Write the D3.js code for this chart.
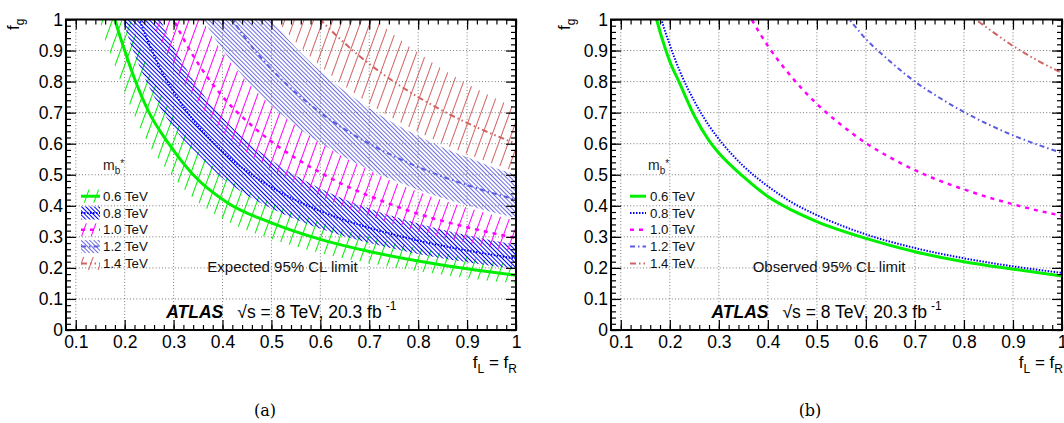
<!DOCTYPE html>
<html><head><meta charset="utf-8">
<script src="https://cdn.jsdelivr.net/npm/d3@7"></script>
<style>
html,body{margin:0;padding:0;background:#fff;}
svg{display:block;font-family:"Liberation Sans",Arial,Helvetica,sans-serif;}
</style></head>
<body>
<script>
// ---------------- data ----------------
const massLabels = ["0.6 TeV","0.8 TeV","1.0 TeV","1.2 TeV","1.4 TeV"];
const xTicks = [0.1,0.2,0.3,0.4,0.5,0.6,0.7,0.8,0.9,1];
const yTicks = [0,0.1,0.2,0.3,0.4,0.5,0.6,0.7,0.8,0.9,1];

// expected limits: [fL=fR, fg]
const exp06 = [[0.17,1.06],[0.18,1.0],[0.2,0.9],[0.22,0.81],[0.25,0.70],[0.29,0.60],[0.34,0.50],[0.41,0.41],[0.5,0.345],[0.6,0.292],[0.7,0.253],[0.8,0.222],[0.9,0.197],[1.0,0.176]];
const exp08 = [[0.21,1.095],[0.23,1.0],[0.25,0.92],[0.28,0.82],[0.3,0.767],[0.35,0.657],[0.4,0.575],[0.45,0.511],[0.5,0.46],[0.6,0.383],[0.7,0.329],[0.8,0.288],[0.9,0.256],[1.0,0.23]];
const exp10 = [[0.28,1.07],[0.3,1.0],[0.33,0.91],[0.36,0.835],[0.4,0.752],[0.45,0.672],[0.5,0.607],[0.55,0.553],[0.6,0.507],[0.65,0.466],[0.7,0.432],[0.8,0.374],[0.9,0.331],[1.0,0.296]];
const exp12 = [[0.4,1.05],[0.42,1.0],[0.45,0.933],[0.5,0.84],[0.55,0.764],[0.6,0.70],[0.65,0.646],[0.7,0.60],[0.75,0.56],[0.8,0.525],[0.85,0.494],[0.9,0.467],[0.95,0.442],[1.0,0.42]];
const exp14 = [[0.55,1.09],[0.6,1.0],[0.65,0.923],[0.7,0.857],[0.75,0.80],[0.8,0.75],[0.85,0.706],[0.9,0.667],[0.95,0.632],[1.0,0.60]];

// expected +-1 sigma bands: [fL=fR, low, high]
const band06 = [[0.14,1.06,1.49],[0.15,0.99,1.39],[0.16,0.935,1.31],[0.18,0.85,1.19],[0.2,0.765,1.07],[0.22,0.69,0.965],[0.25,0.595,0.833],[0.29,0.51,0.714],[0.34,0.425,0.595],[0.41,0.35,0.49],[0.5,0.293,0.41],[0.6,0.248,0.348],[0.7,0.215,0.30],[0.8,0.189,0.264],[0.9,0.167,0.234],[1.0,0.15,0.209]];
const band08 = [[0.19,1.03,1.44],[0.2,0.978,1.37],[0.21,0.93,1.30],[0.23,0.85,1.19],[0.25,0.782,1.095],[0.28,0.697,0.976],[0.3,0.652,0.913],[0.35,0.558,0.782],[0.4,0.489,0.684],[0.45,0.434,0.608],[0.5,0.391,0.547],[0.6,0.326,0.456],[0.7,0.28,0.391],[0.8,0.245,0.343],[0.9,0.218,0.305],[1.0,0.196,0.274]];
const band10 = [[0.24,1.06,1.49],[0.26,0.98,1.37],[0.28,0.91,1.27],[0.3,0.85,1.19],[0.33,0.774,1.08],[0.36,0.71,0.994],[0.4,0.639,0.895],[0.45,0.571,0.80],[0.5,0.516,0.722],[0.55,0.47,0.658],[0.6,0.431,0.603],[0.65,0.396,0.555],[0.7,0.367,0.514],[0.8,0.318,0.445],[0.9,0.281,0.394],[1.0,0.252,0.352]];
const band12 = [[0.33,1.095,1.51],[0.36,1.003,1.39],[0.4,0.903,1.25],[0.45,0.802,1.11],[0.5,0.722,1.0],[0.55,0.657,0.909],[0.6,0.602,0.833],[0.65,0.556,0.769],[0.7,0.516,0.714],[0.75,0.482,0.666],[0.8,0.452,0.625],[0.85,0.425,0.588],[0.9,0.402,0.556],[0.95,0.38,0.526],[1.0,0.361,0.50]];
const band14 = [[0.48,1.063,1.49],[0.5,1.02,1.43],[0.55,0.927,1.30],[0.6,0.85,1.19],[0.65,0.785,1.10],[0.7,0.729,1.02],[0.75,0.68,0.952],[0.8,0.638,0.893],[0.85,0.60,0.84],[0.9,0.567,0.793],[0.95,0.537,0.752],[1.0,0.51,0.714]];

// observed limits
const obs06 = [[0.165,1.05],[0.173,1.0],[0.19,0.91],[0.2,0.865],[0.22,0.795],[0.25,0.69],[0.28,0.61],[0.3,0.57],[0.35,0.494],[0.4,0.43],[0.45,0.385],[0.5,0.349],[0.6,0.295],[0.7,0.252],[0.8,0.22],[0.9,0.196],[1.0,0.174]];
const obs08 = [[0.175,1.05],[0.183,1.0],[0.2,0.918],[0.22,0.835],[0.25,0.737],[0.28,0.658],[0.3,0.615],[0.35,0.528],[0.4,0.463],[0.45,0.41],[0.5,0.37],[0.6,0.308],[0.7,0.264],[0.8,0.231],[0.9,0.205],[1.0,0.184]];
const obs10 = [[0.35,1.05],[0.367,1.0],[0.4,0.915],[0.45,0.812],[0.5,0.728],[0.55,0.66],[0.6,0.602],[0.65,0.555],[0.7,0.515],[0.75,0.481],[0.8,0.453],[0.85,0.427],[0.9,0.405],[0.95,0.385],[1.0,0.368]];
const obs12 = [[0.54,1.045],[0.566,1.0],[0.6,0.937],[0.65,0.864],[0.7,0.80],[0.75,0.748],[0.8,0.702],[0.85,0.662],[0.9,0.627],[0.95,0.597],[1.0,0.57]];
const obs14 = [[0.8,1.03],[0.824,1.0],[0.85,0.97],[0.9,0.915],[0.95,0.868],[1.0,0.828]];

// ---------------- styles ----------------
const styles = [
  {color:"#00ee00", width:3,   dash:null,            hatch:{sp:9, ang:20, w:1}},
  {color:"#0000ff", width:2,   dash:"1.5 1.5",       hatch:{sp:3, ang:-45, w:1}},
  {color:"#ff00ff", width:2.5, dash:"4 5",           hatch:{sp:9, ang:20, w:1}},
  {color:"#5c5ce0", width:2,   dash:"5 3 1.5 3",     hatch:{sp:3, ang:-45, w:0.9}},
  {color:"#d06464", width:2,   dash:"6 3 1.5 3 1.5 3", hatch:{sp:9, ang:20, w:1}}
];

const W = 1064, H = 423;
const svg = d3.select("body").append("svg").attr("width", W).attr("height", H);
const defs = svg.append("defs");
styles.forEach((s, i) => {
  const p = defs.append("pattern").attr("id", "h" + i)
    .attr("patternUnits", "userSpaceOnUse")
    .attr("width", s.hatch.sp).attr("height", 20)
    .attr("patternTransform", `rotate(${s.hatch.ang})`);
  p.append("line").attr("x1", s.hatch.sp / 2).attr("x2", s.hatch.sp / 2)
    .attr("y1", -1).attr("y2", 21)
    .attr("stroke", s.color).attr("stroke-width", s.hatch.w);
});

const panels = [
  {x0: 66, x1: 516, label: "Expected 95% CL limit", lines: [exp06,exp08,exp10,exp12,exp14],
   bands: [band06,band08,band10,band12,band14], cap: "(a)", capX: 265},
  {x0: 611, x1: 1062, label: "Observed 95% CL limit", lines: [obs06,obs08,obs10,obs12,obs14],
   bands: null, cap: "(b)", capX: 810}
];
const yTop = 19.5, yBot = 330;

panels.forEach((P, pi) => {
  const g = svg.append("g");
  const x = d3.scaleLinear().domain([0.08, 1]).range([P.x0, P.x1]);
  const y = d3.scaleLinear().domain([0, 1]).range([yBot, yTop]);

  const clipId = "clip" + pi;
  defs.append("clipPath").attr("id", clipId).append("rect")
    .attr("x", P.x0).attr("y", yTop).attr("width", P.x1 - P.x0).attr("height", yBot - yTop);

  // grid
  const grid = g.append("g").attr("stroke", "#222").attr("stroke-width", 0.8)
    .attr("stroke-dasharray", "1 2.2").attr("opacity", 0.75);
  grid.selectAll("line.v").data(xTicks.filter(d => d < 1)).join("line")
    .attr("x1", d => x(d)).attr("x2", d => x(d)).attr("y1", yTop).attr("y2", yBot);
  grid.selectAll("line.h").data(yTicks.filter(d => d > 0 && d < 1)).join("line")
    .attr("class","h")
    .attr("x1", P.x0).attr("x2", P.x1).attr("y1", d => y(d)).attr("y2", d => y(d));

  const plot = g.append("g").attr("clip-path", `url(#${clipId})`);

  // bands
  if (P.bands) {
    const area = d3.area().x(d => x(d[0])).y0(d => y(d[1])).y1(d => y(d[2])).curve(d3.curveMonotoneX);
    P.bands.forEach((b, i) => {
      plot.append("path").attr("d", area(b)).attr("fill", `url(#h${i})`).attr("stroke", "none");
    });
  }
  // lines
  const line = d3.line().x(d => x(d[0])).y(d => y(d[1])).curve(d3.curveMonotoneX);
  P.lines.forEach((l, i) => {
    const s = styles[i];
    plot.append("path").attr("d", line(l)).attr("fill", "none")
      .attr("stroke", s.color).attr("stroke-width", s.width)
      .attr("stroke-dasharray", s.dash);
  });

  // axes: minor ticks
  const minorX = d3.range(5, 51).map(k => k * 0.02).filter(v => v > 0.081);
  const minorY = d3.range(0, 51).map(k => k * 0.02);
  const axStyle = sel => { sel.select(".domain").remove(); sel.selectAll("line").attr("stroke", "#000").attr("stroke-width", 1.2); };

  g.append("g").attr("transform", `translate(0,${yBot})`)
    .call(d3.axisBottom(x).tickValues(minorX).tickSize(-5).tickFormat("")).call(axStyle);
  g.append("g").attr("transform", `translate(0,${yTop})`)
    .call(d3.axisTop(x).tickValues(minorX).tickSize(-5).tickFormat("")).call(axStyle);
  g.append("g").attr("transform", `translate(${P.x0},0)`)
    .call(d3.axisLeft(y).tickValues(minorY).tickSize(-5).tickFormat("")).call(axStyle);
  g.append("g").attr("transform", `translate(${P.x1},0)`)
    .call(d3.axisRight(y).tickValues(minorY).tickSize(-5).tickFormat("")).call(axStyle);

  // major ticks with labels
  const fmt = d => d === 0 ? "0" : d === 1 ? "1" : d3.format(".1f")(d);
  const xb = g.append("g").attr("transform", `translate(0,${yBot})`)
    .call(d3.axisBottom(x).tickValues(xTicks).tickSize(-10).tickPadding(6).tickFormat(fmt)).call(axStyle);
  xb.selectAll("text").attr("font-size", 17.5).attr("fill", "#000")
    .attr("font-family", '"Liberation Sans",Arial,sans-serif');
  g.append("g").attr("transform", `translate(0,${yTop})`)
    .call(d3.axisTop(x).tickValues(xTicks).tickSize(-10).tickFormat("")).call(axStyle);
  const yl = g.append("g").attr("transform", `translate(${P.x0},0)`)
    .call(d3.axisLeft(y).tickValues(yTicks).tickSize(-10).tickPadding(3).tickFormat(fmt)).call(axStyle);
  yl.selectAll("text").attr("font-size", 17.5).attr("fill", "#000")
    .attr("font-family", '"Liberation Sans",Arial,sans-serif');
  g.append("g").attr("transform", `translate(${P.x1},0)`)
    .call(d3.axisRight(y).tickValues(yTicks).tickSize(-10).tickFormat("")).call(axStyle);

  // frame
  g.append("rect").attr("x", P.x0).attr("y", yTop).attr("width", P.x1 - P.x0).attr("height", yBot - yTop)
    .attr("fill", "none").attr("stroke", "#000").attr("stroke-width", 2);

  // axis titles
  const xt = g.append("text").attr("x", P.x1 + 1).attr("y", 368).attr("text-anchor", "end")
    .attr("font-size", 17);
  xt.append("tspan").text("f");
  xt.append("tspan").attr("font-size", 12).attr("dy", 5).text("L");
  xt.append("tspan").attr("dy", -5).text(" = f");
  xt.append("tspan").attr("font-size", 12).attr("dy", 5).text("R");

  const yt = g.append("text").attr("transform", `translate(${P.x0 - (pi === 0 ? 47 : 41)},${yTop - 1}) rotate(-90)`)
    .attr("text-anchor", "end").attr("font-size", 17);
  yt.append("tspan").text("f");
  yt.append("tspan").attr("font-size", 12).attr("dy", 5).text("g");

  // legend
  const lx = P.x0 + 15;
  const mb = g.append("text").attr("x", lx + 22).attr("y", 170).attr("font-size", 14).attr("fill", "#222");
  mb.append("tspan").text("m");
  mb.append("tspan").attr("font-size", 10).attr("dy", 4).text("b");
  mb.append("tspan").attr("font-size", 10).attr("dy", -7).text("*");
  const rows = [200.7, 217.5, 234.3, 251.1, 268];
  massLabels.forEach((lab, i) => {
    const s = styles[i];
    const ry = rows[i];
    if (P.bands) {
      g.append("rect").attr("x", lx).attr("y", ry - 11).attr("width", 19).attr("height", 13)
        .attr("fill", `url(#h${i})`);
      g.append("line").attr("x1", lx).attr("x2", lx + 19).attr("y1", ry - 4.5).attr("y2", ry - 4.5)
        .attr("stroke", s.color).attr("stroke-width", s.width).attr("stroke-dasharray", s.dash);
    } else {
      g.append("line").attr("x1", lx + 4).attr("x2", lx + 20).attr("y1", ry - 4.5).attr("y2", ry - 4.5)
        .attr("stroke", s.color).attr("stroke-width", s.width).attr("stroke-dasharray", s.dash);
    }
    g.append("text").attr("x", lx + (P.bands ? 22 : 24)).attr("y", ry).attr("font-size", 13.3)
      .attr("fill", "#111").text(lab);
  });

  // labels
  g.append("text").attr("x", x(0.369)).attr("y", 272).attr("font-size", 15).attr("fill", "#111").text(P.label);
  const at = g.append("text").attr("x", x(0.285)).attr("y", 318).attr("font-size", 17.5);
  at.append("tspan").attr("font-weight", "bold").attr("font-style", "italic").text("ATLAS");
  at.append("tspan").attr("dx", 14).text("\u221As = 8 TeV, 20.3 fb");
  at.append("tspan").attr("font-size", 12).attr("dy", -8).attr("dx", 4).text("-1");

  // caption
  svg.append("text").attr("x", P.capX).attr("y", 416).attr("text-anchor", "middle")
    .attr("font-family", '"DejaVu Serif","Liberation Serif",serif').attr("font-size", 16).text(P.cap);
});
</script>
</body></html>
